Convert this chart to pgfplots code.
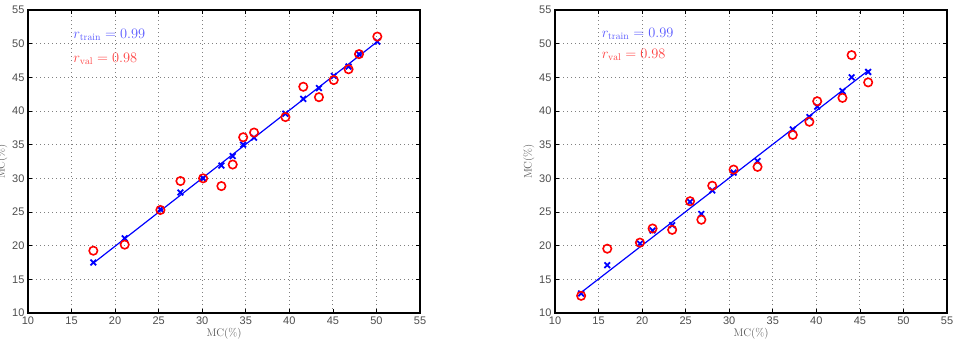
\documentclass[border=0pt]{standalone}
\usepackage{pgfplots}
\pgfplotsset{compat=1.18}
\usepackage{fontspec}
\newfontfamily\ticksf{Liberation Sans}

% Measured vs. predicted moisture content, training (x) and validation (o)
\pgfplotstableread{
meas  train  val
17.5  17.5   19.25
21.1  21.1   20.15
25.2  25.4   25.3
27.5  27.9   29.6
30.1  30.0   30.0
32.2  31.9   28.85
33.5  33.3   32.05
34.7  35.0   36.1
35.95 36.05  36.8
39.55 39.6   39.1
41.6  41.8   43.6
43.4  43.4   42.05
45.1  45.2   44.6
46.8  46.6   46.2
48.0  48.45  48.45
50.1  50.3   51.05
}\setA
\pgfplotstableread{
meas  train  val
13.0  12.9   12.55
16.0  17.1   19.55
19.75 20.3   20.45
21.2  22.25  22.55
23.45 23.05  22.35
25.5  26.5   26.6
26.8  24.7   23.85
28.05 28.2   28.9
30.5  30.85  31.3
33.25 32.55  31.7
37.3  37.25  36.45
39.2  39.1   38.4
40.1  40.65  41.45
43.0  42.95  41.95
44.05 45.0   48.3
45.95 45.8   44.25
}\setB

\tikzset{rlab/.style={anchor=west, inner sep=0pt, font=\fontsize{14}{14}\selectfont}}
\pgfplotsset{
  mcaxis/.style={
    scale only axis, width=392pt, height=303pt,
    xmin=10, xmax=55, ymin=10, ymax=55,
    xtick={10,15,...,55}, ytick={10,15,...,55},
    grid=major,
    major grid style={black!50, line width=0.8pt, dash pattern=on 0.8pt off 3.2pt},
    axis line style={black, line width=1.6pt},
    tick style={black, line width=0.6pt},
    major tick length=4pt,
    tick align=inside,
    ticklabel style={font=\ticksf\fontsize{11}{11}\selectfont, text=black!70},
    /pgf/number format/assume math mode=true,
    xlabel={MC(\%)}, ylabel={MC(\%)},
    label style={font=\fontsize{11}{11}\selectfont, text=black!65},
    xlabel style={yshift=3pt},
    ylabel style={yshift=-2pt},
    every axis plot/.append style={line width=1.1pt},
  },
  trainmk/.style={only marks, blue, mark=x, mark size=4pt, mark options={line width=1.8pt}},
  valmk/.style={only marks, red, mark=o, mark size=4.2pt, mark options={line width=1.6pt}},
  fitline/.style={blue, no marks, line width=1.2pt},
}

\begin{document}
\begin{tikzpicture}
\begin{axis}[mcaxis, at={(28pt,34pt)}, anchor=south west]
  \addplot[fitline] coordinates {(17.5,17.4) (50.1,50.3)};
  \addplot[trainmk] table[x=meas, y=train] {\setA};
  \addplot[valmk] table[x=meas, y=val] {\setA};
  \node[rlab, text=blue!65] at (axis cs:15.2,51.3) {$r_{\mathrm{train}} = 0.99$};
  \node[rlab, text=red!75] at (axis cs:15.2,47.7) {$r_{\mathrm{val}} = 0.98$};
\end{axis}
\begin{axis}[mcaxis, at={(555pt,34pt)}, anchor=south west]
  \addplot[fitline] coordinates {(13.0,13.05) (46.0,46.05)};
  \addplot[trainmk] table[x=meas, y=train] {\setB};
  \addplot[valmk] table[x=meas, y=val] {\setB};
  \node[rlab, text=blue!65] at (axis cs:15.35,51.4) {$r_{\mathrm{train}} = 0.99$};
  \node[rlab, text=red!75] at (axis cs:15.35,48.3) {$r_{\mathrm{val}} = 0.98$};
\end{axis}
\pgfresetboundingbox
\path (0pt,0pt) rectangle (953pt,347pt);
\end{tikzpicture}
\end{document}
